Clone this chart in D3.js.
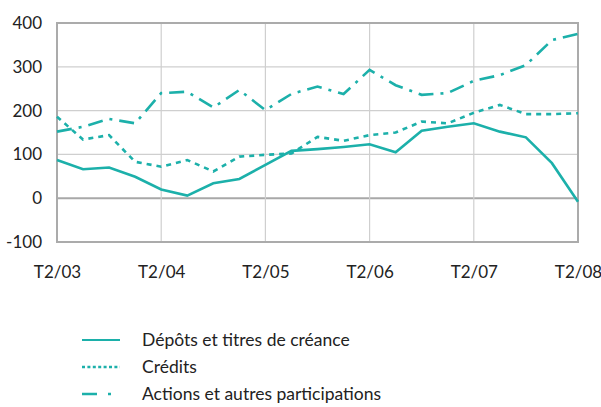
<!DOCTYPE html>
<html><head><meta charset="utf-8">
<script src="https://cdn.jsdelivr.net/npm/d3@7"></script>
<style>body{margin:0;background:#fff;}svg{display:block;font-family:Lato, "Open Sans", sans-serif;}</style>
</head><body>
<script>
const quarters = ["T2/03","T3/03","T4/03","T1/04","T2/04","T3/04","T4/04","T1/05","T2/05","T3/05","T4/05","T1/06","T2/06","T3/06","T4/06","T1/07","T2/07","T3/07","T4/07","T1/08","T2/08"];
const tickLabels = ["T2/03","T2/04","T2/05","T2/06","T2/07","T2/08"];
const yTicks = [-100,0,100,200,300,400];
const depots = [87,66,70,49,20,6,34,44,76,108,112,117,123,105,154,163,171,152,139,80,-8];
const credits = [186,134,144,83,72,87,61,95,99,102,140,131,144,150,175,171,195,213,192,192,194];
const actions = [152,163,181,171,240,243,207,247,201,238,255,238,293,258,236,240,268,281,304,361,375];
const seriesNames = ["Dépôts et titres de créance","Crédits","Actions et autres participations"];

const W=601,H=407, color="#1cb0aa";
const svg=d3.select("body").append("svg").attr("width",W).attr("height",H);
const x=d3.scalePoint().domain(quarters).range([57,578]);
const y=d3.scaleLinear().domain([-100,400]).range([242,23]);

// grid
svg.append("g").selectAll("line").data(yTicks).join("line")
  .attr("x1",57).attr("x2",578).attr("y1",d=>y(d)).attr("y2",d=>y(d))
  .attr("stroke",d=>d===0?"#a8a8a8":"#cfcfcf").attr("stroke-width",d=>d===0?2:1.2);
svg.append("g").selectAll("line").data(tickLabels).join("line")
  .attr("x1",d=>x(d)).attr("x2",d=>x(d)).attr("y1",23).attr("y2",242)
  .attr("stroke","#cfcfcf").attr("stroke-width",1.2);
svg.append("rect").attr("x",57).attr("y",23).attr("width",521).attr("height",219)
  .attr("fill","none").attr("stroke","#ababab").attr("stroke-width",2);

// axes labels
const yAxis=d3.axisLeft(y).tickValues(yTicks).tickSize(0).tickPadding(15).tickFormat(d=>String(d));
const ya=svg.append("g").attr("transform","translate(57,0)").call(yAxis);
ya.select(".domain").remove();
ya.selectAll("text").attr("font-size",17).attr("fill","#222").attr("font-family","Lato, sans-serif");
const xAxis=d3.axisBottom(x).tickValues(tickLabels).tickSize(0).tickPadding(24);
const xa=svg.append("g").attr("transform","translate(0,242)").call(xAxis);
xa.select(".domain").remove();
xa.selectAll("text").attr("font-size",17).attr("fill","#222").attr("font-family","Lato, sans-serif");

const line=d3.line().x((d,i)=>x(quarters[i])).y(d=>y(d));
const dashes=[null,"5,5","15,7,3,7"];
[depots,credits,actions].forEach((s,k)=>{
  svg.append("path").attr("d",line(s)).attr("fill","none").attr("stroke",color)
    .attr("stroke-width",2.6).attr("stroke-dasharray",dashes[k]);
});

// legend
const leg=svg.append("g");
const ly=[340,367,394];
seriesNames.forEach((n,k)=>{
  leg.append("line").attr("x1",82).attr("x2",120).attr("y1",ly[k]).attr("y2",ly[k])
    .attr("stroke",color).attr("stroke-width",k===0?1.8:2.6)
    .attr("stroke-dasharray",k===1?"3,2.4":(k===2?"15,11,3,20":null));
  leg.append("text").attr("x",142).attr("y",ly[k]+6).attr("font-size",17.5).attr("fill","#222").text(n);
});
</script>
</body></html>
